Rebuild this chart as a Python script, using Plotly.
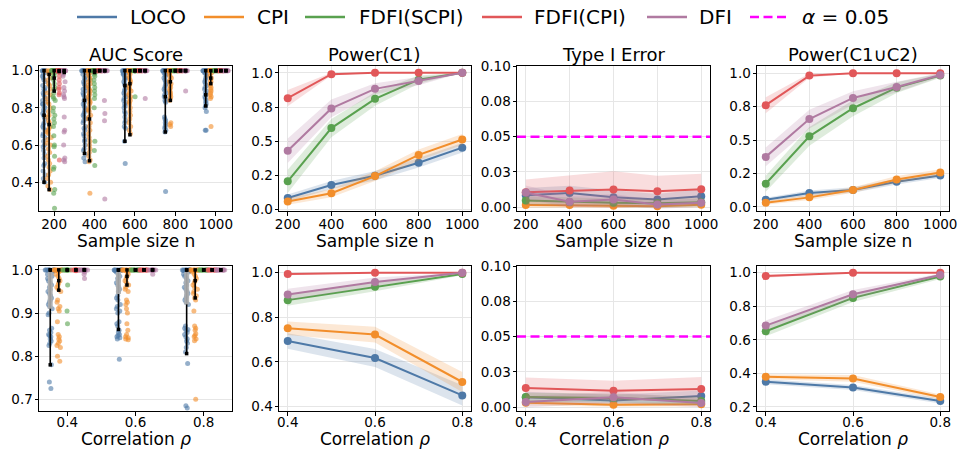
import plotly.graph_objects as go

# ---------------- data ----------------
METHODS = ["LOCO", "CPI", "FDFI(SCPI)", "FDFI(CPI)", "DFI"]
COLORS = ["#4e79a7", "#f28e2b", "#59a14f", "#e15759", "#b07aa1"]

n_values = [200, 400, 600, 800, 1000]
rho_values = [0.4, 0.6, 0.8]

n_ticks = [200, 400, 600, 800, 1000]
rho_ticks = [0.4, 0.6, 0.8]
power_top_ticks = [0.0, 0.25, 0.5, 0.75, 1.0]
power_top_ticktext = ["0.0", "0.2", "0.5", "0.8", "1.0"]
type1_ticks = [0.0, 0.025, 0.05, 0.075, 0.1]
type1_ticktext = ["0.00", "0.03", "0.05", "0.08", "0.10"]
auc_n_ticks = [0.4, 0.6, 0.8, 1.0]
auc_rho_ticks = [0.7, 0.8, 0.9, 1.0]
power_c1_rho_ticks = [0.4, 0.6, 0.8, 1.0]
power_c12_rho_ticks = [0.2, 0.4, 0.6, 0.8, 1.0]
alpha_level = 0.05

# Power(C1) vs sample size
power_c1_n = {
    "LOCO": [0.085, 0.18, 0.248, 0.343, 0.453],
    "CPI": [0.06, 0.12, 0.245, 0.40, 0.513],
    "FDFI(SCPI)": [0.207, 0.596, 0.81, 0.95, 1.0],
    "FDFI(CPI)": [0.815, 0.99, 1.0, 1.0, 1.0],
    "DFI": [0.43, 0.74, 0.883, 0.94, 1.0],
}
power_c1_n_err = {
    "LOCO": [0.025, 0.03, 0.035, 0.035, 0.035],
    "CPI": [0.025, 0.03, 0.035, 0.04, 0.04],
    "FDFI(SCPI)": [0.085, 0.067, 0.05, 0.03, 0.0],
    "FDFI(CPI)": [0.06, 0.01, 0.0, 0.0, 0.0],
    "DFI": [0.09, 0.065, 0.04, 0.03, 0.0],
}
# Type I error vs sample size
type1_n = {
    "LOCO": [0.0086, 0.0102, 0.0071, 0.0055, 0.0078],
    "CPI": [0.0017, 0.0017, 0.0012, 0.0007, 0.0019],
    "FDFI(SCPI)": [0.0048, 0.0038, 0.0033, 0.0028, 0.0036],
    "FDFI(CPI)": [0.0107, 0.0119, 0.0126, 0.0114, 0.0128],
    "DFI": [0.0105, 0.004, 0.0055, 0.002, 0.0033],
}
type1_n_err = {
    "LOCO": [0.005, 0.005, 0.005, 0.004, 0.005],
    "CPI": [0.002, 0.002, 0.0015, 0.001, 0.002],
    "FDFI(SCPI)": [0.003, 0.003, 0.003, 0.003, 0.003],
    "FDFI(CPI)": [0.009, 0.011, 0.013, 0.011, 0.011],
    "DFI": [0.005, 0.004, 0.004, 0.003, 0.003],
}
# Power(C1 u C2) vs sample size
power_c12_n = {
    "LOCO": [0.055, 0.104, 0.127, 0.189, 0.236],
    "CPI": [0.032, 0.072, 0.127, 0.206, 0.258],
    "FDFI(SCPI)": [0.174, 0.529, 0.739, 0.893, 0.983],
    "FDFI(CPI)": [0.762, 0.983, 1.0, 1.0, 1.0],
    "DFI": [0.375, 0.658, 0.816, 0.898, 0.988],
}
power_c12_n_err = {
    "LOCO": [0.015, 0.02, 0.02, 0.02, 0.02],
    "CPI": [0.015, 0.02, 0.02, 0.025, 0.025],
    "FDFI(SCPI)": [0.06, 0.07, 0.06, 0.04, 0.015],
    "FDFI(CPI)": [0.06, 0.015, 0.0, 0.0, 0.0],
    "DFI": [0.07, 0.07, 0.05, 0.04, 0.015],
}
# Power(C1) vs correlation
power_c1_rho = {
    "LOCO": [0.694, 0.6175, 0.45],
    "CPI": [0.751, 0.7225, 0.51],
    "FDFI(SCPI)": [0.877, 0.937, 0.994],
    "FDFI(CPI)": [0.994, 1.0, 1.0],
    "DFI": [0.9025, 0.958, 1.0],
}
power_c1_rho_err = {
    "LOCO": [0.035, 0.04, 0.045],
    "CPI": [0.03, 0.035, 0.045],
    "FDFI(SCPI)": [0.025, 0.02, 0.005],
    "FDFI(CPI)": [0.005, 0.0, 0.0],
    "DFI": [0.025, 0.02, 0.0],
}
# Type I error vs correlation
type1_rho = {
    "LOCO": [0.0069, 0.0047, 0.0078],
    "CPI": [0.0031, 0.0017, 0.0019],
    "FDFI(SCPI)": [0.0071, 0.0064, 0.0043],
    "FDFI(CPI)": [0.0135, 0.0116, 0.0128],
    "DFI": [0.0036, 0.0069, 0.0028],
}
type1_rho_err = {
    "LOCO": [0.004, 0.004, 0.004],
    "CPI": [0.002, 0.0015, 0.0015],
    "FDFI(SCPI)": [0.003, 0.003, 0.003],
    "FDFI(CPI)": [0.0075, 0.007, 0.0085],
    "DFI": [0.004, 0.004, 0.003],
}
# Power(C1 u C2) vs correlation
power_c12_rho = {
    "LOCO": [0.35, 0.316, 0.236],
    "CPI": [0.38, 0.37, 0.26],
    "FDFI(SCPI)": [0.651, 0.85, 0.978],
    "FDFI(CPI)": [0.98, 1.0, 1.0],
    "DFI": [0.685, 0.872, 0.986],
}
power_c12_rho_err = {
    "LOCO": [0.015, 0.015, 0.015],
    "CPI": [0.015, 0.02, 0.015],
    "FDFI(SCPI)": [0.03, 0.025, 0.015],
    "FDFI(CPI)": [0.01, 0.0, 0.0],
    "DFI": [0.03, 0.025, 0.01],
}

# AUC scores (individual runs) vs sample size, one list per n
auc_n_points = {
    "LOCO": [
        [1.0, 1.0, 1.0, 1.0, 1.0, 1.0, 0.99, 0.98, 0.97, 0.96, 0.95, 0.94, 0.92, 0.91, 0.9, 0.89, 0.88, 0.87, 0.86, 0.85,
         0.84, 0.83, 0.82, 0.82, 0.81, 0.8, 0.79, 0.78, 0.77, 0.76, 0.75, 0.74, 0.72, 0.71, 0.7, 0.69, 0.68, 0.66, 0.65,
         0.64, 0.62, 0.6, 0.59, 0.57, 0.55, 0.53, 0.5, 0.49, 0.46, 0.44, 0.42, 0.4],
        [1.0, 1.0, 1.0, 1.0, 1.0, 1.0, 1.0, 1.0, 0.99, 0.98, 0.97, 0.96, 0.95, 0.94, 0.93, 0.92, 0.91, 0.9, 0.89, 0.88,
         0.87, 0.86, 0.85, 0.84, 0.83, 0.82, 0.81, 0.8, 0.79, 0.78, 0.77, 0.76, 0.75, 0.74, 0.73, 0.72, 0.7, 0.69, 0.68,
         0.66, 0.65, 0.63, 0.62, 0.6, 0.58, 0.57, 0.55, 0.53, 0.51],
        [1.0, 1.0, 1.0, 1.0, 1.0, 1.0, 1.0, 1.0, 1.0, 1.0, 0.99, 0.99, 0.98, 0.98, 0.97, 0.96, 0.96, 0.95, 0.94, 0.93,
         0.92, 0.91, 0.9, 0.89, 0.88, 0.87, 0.86, 0.85, 0.84, 0.83, 0.82, 0.81, 0.8, 0.78, 0.77, 0.75, 0.73, 0.72, 0.7,
         0.69, 0.62, 0.5],
        [1.0, 1.0, 1.0, 1.0, 1.0, 1.0, 1.0, 1.0, 1.0, 1.0, 0.99, 0.99, 0.98, 0.98, 0.97, 0.96, 0.95, 0.94, 0.93, 0.92,
         0.91, 0.9, 0.89, 0.88, 0.87, 0.86, 0.85, 0.84, 0.83, 0.75, 0.74, 0.73, 0.72, 0.71, 0.7, 0.69, 0.68, 0.67, 0.35],
        [1.0, 1.0, 1.0, 1.0, 1.0, 1.0, 1.0, 1.0, 1.0, 1.0, 0.99, 0.99, 0.98, 0.97, 0.96, 0.95, 0.94, 0.93, 0.92, 0.91,
         0.9, 0.89, 0.88, 0.87, 0.86, 0.85, 0.84, 0.83, 0.82, 0.81, 0.8, 0.78, 0.68, 0.68],
    ],
    "CPI": [
        [1.0, 1.0, 1.0, 0.99, 0.98, 0.96, 0.95, 0.93, 0.92, 0.9, 0.88, 0.87, 0.85, 0.83, 0.82, 0.8, 0.78, 0.76, 0.75,
         0.73, 0.72, 0.7, 0.69, 0.68, 0.67, 0.66, 0.64, 0.63, 0.61, 0.6, 0.58, 0.56, 0.54, 0.52, 0.5, 0.48, 0.46, 0.44,
         0.42, 0.4, 0.38, 0.36],
        [1.0, 1.0, 1.0, 1.0, 1.0, 1.0, 1.0, 1.0, 0.99, 0.98, 0.97, 0.96, 0.95, 0.94, 0.93, 0.92, 0.91, 0.9, 0.89, 0.88,
         0.87, 0.86, 0.85, 0.84, 0.83, 0.82, 0.8, 0.79, 0.78, 0.76, 0.75, 0.74, 0.72, 0.7, 0.68, 0.66, 0.64, 0.62, 0.6,
         0.58, 0.56, 0.54, 0.52, 0.51, 0.34],
        [1.0, 1.0, 1.0, 1.0, 1.0, 1.0, 1.0, 1.0, 1.0, 1.0, 0.99, 0.98, 0.97, 0.96, 0.95, 0.94, 0.93, 0.92, 0.91, 0.9,
         0.89, 0.88, 0.87, 0.86, 0.85, 0.84, 0.83, 0.82, 0.8, 0.78, 0.76, 0.74, 0.72, 0.7, 0.68, 0.66],
        [1.0, 1.0, 1.0, 1.0, 1.0, 1.0, 1.0, 1.0, 1.0, 1.0, 0.99, 0.98, 0.97, 0.96, 0.95, 0.94, 0.93, 0.92, 0.91, 0.9,
         0.89, 0.88, 0.87, 0.86, 0.85, 0.84, 0.72, 0.71, 0.7],
        [1.0, 1.0, 1.0, 1.0, 1.0, 1.0, 1.0, 1.0, 1.0, 1.0, 0.99, 0.98, 0.97, 0.96, 0.95, 0.94, 0.93, 0.92, 0.91, 0.9,
         0.89, 0.88, 0.87, 0.86, 0.85, 0.7],
    ],
    "FDFI(SCPI)": [
        [1.0, 1.0, 1.0, 1.0, 1.0, 1.0, 1.0, 1.0, 1.0, 1.0, 1.0, 1.0, 0.99, 0.98, 0.97, 0.96, 0.95, 0.93, 0.91, 0.9, 0.88,
         0.86, 0.85, 0.84, 0.8, 0.78, 0.76, 0.74, 0.72, 0.7, 0.65, 0.6, 0.59, 0.54, 0.48, 0.47, 0.36, 0.34, 0.26],
        [1.0, 1.0, 1.0, 1.0, 1.0, 1.0, 1.0, 1.0, 1.0, 1.0, 1.0, 1.0, 0.99, 0.98, 0.97, 0.95, 0.93, 0.91, 0.89, 0.87,
         0.85, 0.8, 0.62, 0.57, 0.49],
        [1.0, 1.0, 1.0, 1.0, 1.0, 1.0, 1.0, 1.0, 1.0, 1.0, 1.0, 1.0, 0.86],
        [1.0, 1.0, 1.0, 1.0, 1.0, 1.0, 1.0, 1.0, 1.0, 1.0, 1.0, 1.0],
        [1.0, 1.0, 1.0, 1.0, 1.0, 1.0, 1.0, 1.0, 1.0, 1.0, 1.0, 1.0],
    ],
    "FDFI(CPI)": [
        [1.0, 1.0, 1.0, 1.0, 1.0, 1.0, 1.0, 1.0, 1.0, 1.0, 1.0, 1.0, 0.99, 0.97, 0.95, 0.93, 0.91, 0.9, 0.88, 0.87, 0.52],
        [1.0, 1.0, 1.0, 1.0, 1.0, 1.0, 1.0, 1.0, 1.0, 1.0, 1.0, 1.0],
        [1.0, 1.0, 1.0, 1.0, 1.0, 1.0, 1.0, 1.0, 1.0, 1.0, 1.0, 1.0],
        [1.0, 1.0, 1.0, 1.0, 1.0, 1.0, 1.0, 1.0, 1.0, 1.0, 1.0, 1.0],
        [1.0, 1.0, 1.0, 1.0, 1.0, 1.0, 1.0, 1.0, 1.0, 1.0, 1.0, 1.0],
    ],
    "DFI": [
        [1.0, 1.0, 1.0, 1.0, 1.0, 1.0, 1.0, 1.0, 1.0, 1.0, 0.98, 0.97, 0.94, 0.91, 0.89, 0.87, 0.86, 0.85, 0.75, 0.68,
         0.67, 0.6, 0.53, 0.52, 0.51],
        [1.0, 1.0, 1.0, 1.0, 1.0, 1.0, 1.0, 1.0, 1.0, 1.0, 1.0, 1.0, 0.84, 0.77, 0.73, 0.31],
        [1.0, 1.0, 1.0, 1.0, 1.0, 1.0, 1.0, 1.0, 1.0, 1.0, 1.0, 1.0, 0.85],
        [1.0, 1.0, 1.0, 1.0, 1.0, 1.0, 1.0, 1.0, 1.0, 1.0, 1.0, 1.0, 0.89],
        [1.0, 1.0, 1.0, 1.0, 1.0, 1.0, 1.0, 1.0, 1.0, 1.0, 1.0, 1.0],
    ],
}
# summary bars for AUC vs n: [low, middle, high] per n
auc_n_summary = {
    "LOCO": [[0.40, 0.76, 1.0], [0.555, 0.84, 1.0], [0.62, 0.92, 1.0], [0.67, 0.86, 1.0], [0.81, 0.87, 1.0]],
    "CPI": [[0.36, 0.71, 0.98], [0.515, 0.74, 1.0], [0.655, 0.93, 1.0], [0.84, 0.94, 1.0], [0.93, 0.96, 1.0]],
    "FDFI(SCPI)": [[0.89, 0.96, 1.0], [0.99, 1.0, 1.0], [1.0, 1.0, 1.0], [1.0, 1.0, 1.0], [1.0, 1.0, 1.0]],
    "FDFI(CPI)": [[0.995, 1.0, 1.0], [1.0, 1.0, 1.0], [1.0, 1.0, 1.0], [1.0, 1.0, 1.0], [1.0, 1.0, 1.0]],
    "DFI": [[0.99, 1.0, 1.0], [1.0, 1.0, 1.0], [1.0, 1.0, 1.0], [1.0, 1.0, 1.0], [1.0, 1.0, 1.0]],
}

# AUC scores vs correlation, one list per rho
auc_rho_points = {
    "LOCO": [
        [1.0, 1.0, 1.0, 1.0, 1.0, 1.0, 1.0, 1.0, 1.0, 1.0, 0.998, 0.995, 0.99, 0.985, 0.98, 0.975, 0.97, 0.965, 0.96,
         0.955, 0.95, 0.945, 0.94, 0.935, 0.93, 0.925, 0.92, 0.915, 0.91, 0.9, 0.896, 0.865, 0.86, 0.855, 0.85, 0.848,
         0.845, 0.84, 0.835, 0.83, 0.825, 0.78, 0.74, 0.725],
        [1.0, 1.0, 1.0, 1.0, 1.0, 1.0, 1.0, 1.0, 1.0, 1.0, 0.998, 0.995, 0.99, 0.985, 0.98, 0.975, 0.97, 0.965, 0.96,
         0.955, 0.95, 0.94, 0.935, 0.93, 0.92, 0.915, 0.91, 0.905, 0.9, 0.88, 0.875, 0.87, 0.86, 0.855, 0.85, 0.848,
         0.845, 0.843, 0.84, 0.793],
        [1.0, 1.0, 1.0, 1.0, 1.0, 1.0, 1.0, 1.0, 1.0, 1.0, 0.998, 0.995, 0.99, 0.985, 0.98, 0.975, 0.97, 0.965, 0.96,
         0.955, 0.95, 0.945, 0.94, 0.935, 0.93, 0.925, 0.92, 0.87, 0.865, 0.862, 0.86, 0.855, 0.85, 0.845, 0.84, 0.835,
         0.83, 0.82, 0.81, 0.783, 0.685, 0.68],
    ],
    "CPI": [
        [1.0, 1.0, 1.0, 1.0, 1.0, 1.0, 1.0, 1.0, 1.0, 1.0, 0.998, 0.995, 0.99, 0.985, 0.98, 0.975, 0.97, 0.965, 0.96,
         0.955, 0.95, 0.93, 0.925, 0.915, 0.91, 0.905, 0.88, 0.85, 0.845, 0.84, 0.835, 0.83, 0.825, 0.82, 0.8, 0.788],
        [1.0, 1.0, 1.0, 1.0, 1.0, 1.0, 1.0, 1.0, 1.0, 1.0, 0.998, 0.995, 0.99, 0.985, 0.98, 0.975, 0.97, 0.965, 0.96,
         0.955, 0.95, 0.93, 0.925, 0.92, 0.91, 0.9, 0.875, 0.86, 0.85, 0.845, 0.843, 0.84, 0.838],
        [1.0, 1.0, 1.0, 1.0, 1.0, 1.0, 1.0, 1.0, 1.0, 1.0, 0.998, 0.995, 0.99, 0.985, 0.98, 0.975, 0.97, 0.965, 0.96,
         0.955, 0.95, 0.945, 0.94, 0.935, 0.93, 0.905, 0.87, 0.865, 0.86, 0.852, 0.848, 0.845, 0.84, 0.836, 0.70],
    ],
    "FDFI(SCPI)": [
        [1.0, 1.0, 1.0, 1.0, 1.0, 1.0, 1.0, 1.0, 1.0, 1.0, 1.0, 1.0, 0.965, 0.905, 0.875],
        [1.0, 1.0, 1.0, 1.0, 1.0, 1.0, 1.0, 1.0, 1.0, 1.0, 1.0, 1.0],
        [1.0, 1.0, 1.0, 1.0, 1.0, 1.0, 1.0, 1.0, 1.0, 1.0, 1.0, 1.0],
    ],
    "FDFI(CPI)": [
        [1.0, 1.0, 1.0, 1.0, 1.0, 1.0, 1.0, 1.0, 1.0, 1.0, 1.0, 1.0, 0.998],
        [1.0, 1.0, 1.0, 1.0, 1.0, 1.0, 1.0, 1.0, 1.0, 1.0, 1.0, 1.0],
        [1.0, 1.0, 1.0, 1.0, 1.0, 1.0, 1.0, 1.0, 1.0, 1.0, 1.0, 1.0],
    ],
    "DFI": [
        [1.0, 1.0, 1.0, 1.0, 1.0, 1.0, 1.0, 1.0, 1.0, 1.0, 1.0, 1.0, 0.995, 0.99, 0.98],
        [1.0, 1.0, 1.0, 1.0, 1.0, 1.0, 1.0, 1.0, 1.0, 1.0, 1.0, 1.0, 0.99],
        [1.0, 1.0, 1.0, 1.0, 1.0, 1.0, 1.0, 1.0, 1.0, 1.0, 1.0, 1.0],
    ],
}
auc_rho_summary = {
    "LOCO": [[0.78, 1.0, 1.0], [0.862, 1.0, 1.0], [0.806, 1.0, 1.0]],
    "CPI": [[0.953, 0.975, 1.0], [0.965, 0.985, 1.0], [0.935, 0.975, 1.0]],
    "FDFI(SCPI)": [[1.0, 1.0, 1.0], [1.0, 1.0, 1.0], [1.0, 1.0, 1.0]],
    "FDFI(CPI)": [[1.0, 1.0, 1.0], [1.0, 1.0, 1.0], [1.0, 1.0, 1.0]],
    "DFI": [[1.0, 1.0, 1.0], [1.0, 1.0, 1.0], [1.0, 1.0, 1.0]],
}
# interquartile band of LOCO AUC vs correlation
auc_rho_loco_iqr = [[0.91, 0.995], [0.944, 0.995], [0.92, 0.995]]

legend_labels = ["LOCO", "CPI", "FDFI(SCPI)", "FDFI(CPI)", "DFI", "<i>α</i> = 0.05"]

# ---------------- style / layout (pixel positions of the target picture) ----------------
FONT = "DejaVu Sans"
W, H = 959, 450
OFFSET_FRAC = [-0.25, -0.125, 0.0, 0.125, 0.25]
JITTER_FRAC = 0.15
PANEL_X_PX = [[39, 232], [279, 471], [517, 710], [757, 949]]
PANEL_Y_PX = [[66, 211], [266, 411]]
LEGEND_LINE_X = [77, 204, 305, 482, 647, 750]
LEGEND_TEXT_X = [128, 255, 357, 532, 697, 800]
LEGEND_Y = 17
TITLE_Y = 54
XTITLE_Y = [241, 439]
XTICK_STANDOFF = [-3, -5]
ALPHA_COLOR = "#ff00ff"


def px_x(p):
    return p / W


def px_y(p):
    return 1 - p / H


X_DOMAINS = [[px_x(a), px_x(b)] for a, b in PANEL_X_PX]
Y_DOMAINS = [[px_y(b), px_y(a)] for a, b in PANEL_Y_PX]


def rgba(hex_color, a):
    h = hex_color.lstrip("#")
    r, g, b = int(h[0:2], 16), int(h[2:4], 16), int(h[4:6], 16)
    return f"rgba({r},{g},{b},{a})"


def axref(i):
    return ("x" if i == 1 else f"x{i}"), ("y" if i == 1 else f"y{i}")


fig = go.Figure()


def add_line_panel(i, xs, vals, errs):
    xr, yr = axref(i)
    for m, c in zip(METHODS, COLORS):
        v, e = vals[m], errs[m]
        up = [a + b for a, b in zip(v, e)]
        lo = [a - b for a, b in zip(v, e)]
        fig.add_trace(go.Scatter(
            x=list(xs) + list(xs)[::-1], y=up + lo[::-1], fill="toself",
            fillcolor=rgba(c, 0.2), line=dict(width=0), mode="lines",
            hoverinfo="skip", showlegend=False, xaxis=xr, yaxis=yr))
        fig.add_trace(go.Scatter(
            x=xs, y=v, mode="lines+markers", line=dict(color=c, width=2),
            marker=dict(size=8, color=c), showlegend=False, name=m, xaxis=xr, yaxis=yr))


def add_auc_panel(i, xs, spacing, points, summary, iqr=None):
    xr, yr = axref(i)
    for k, (m, c) in enumerate(zip(METHODS, COLORS)):
        for j, x in enumerate(xs):
            fig.add_trace(go.Box(
                y=points[m][j], x0=x + OFFSET_FRAC[k] * spacing, width=JITTER_FRAC * spacing,
                boxpoints="all", jitter=1.0, pointpos=0, name=m,
                marker=dict(color=c, size=5, opacity=0.6),
                line=dict(width=0), fillcolor="rgba(0,0,0,0)", whiskerwidth=0,
                hoverinfo="skip", showlegend=False, xaxis=xr, yaxis=yr))
    for k, m in enumerate(METHODS):
        lx, ly, mx, my = [], [], [], []
        for j, x in enumerate(xs):
            p = x + OFFSET_FRAC[k] * spacing
            lo, mid, hi = summary[m][j]
            lx += [p, p, None]
            ly += [lo, hi, None]
            mx += [p, p, p]
            my += [lo, mid, hi]
        fig.add_trace(go.Scatter(x=lx, y=ly, mode="lines", line=dict(color="black", width=1.6),
                                 hoverinfo="skip", showlegend=False, xaxis=xr, yaxis=yr))
        if iqr is not None and m == "LOCO":
            gx, gy = [], []
            for j, x in enumerate(xs):
                p = x + OFFSET_FRAC[k] * spacing
                gx += [p, p, None]
                gy += [iqr[j][0], iqr[j][1], None]
            fig.add_trace(go.Scatter(x=gx, y=gy, mode="lines",
                                     line=dict(color="rgba(175,175,175,0.9)", width=5),
                                     hoverinfo="skip", showlegend=False, xaxis=xr, yaxis=yr))
        fig.add_trace(go.Scatter(x=mx, y=my, mode="markers",
                                 marker=dict(symbol="square", size=3.5, color="black"),
                                 hoverinfo="skip", showlegend=False, xaxis=xr, yaxis=yr))


add_auc_panel(1, n_values, 200, auc_n_points, auc_n_summary)
add_line_panel(2, n_values, power_c1_n, power_c1_n_err)
add_line_panel(3, n_values, type1_n, type1_n_err)
add_line_panel(4, n_values, power_c12_n, power_c12_n_err)
add_auc_panel(5, rho_values, 0.2, auc_rho_points, auc_rho_summary, auc_rho_loco_iqr)
add_line_panel(6, rho_values, power_c1_rho, power_c1_rho_err)
add_line_panel(7, rho_values, type1_rho, type1_rho_err)
add_line_panel(8, rho_values, power_c12_rho, power_c12_rho_err)

# significance level lines
shapes = []
for i in (3, 7):
    xr, yr = axref(i)
    shapes.append(dict(type="line", xref=f"{xr} domain", x0=0, x1=1, yref=yr, y0=alpha_level, y1=alpha_level,
                       line=dict(color=ALPHA_COLOR, width=2.5, dash="9px,4.5px"), layer="above"))

annotations = []

# figure-level legend at the top
legend_colors = COLORS + [ALPHA_COLOR]
for k, (lab, c) in enumerate(zip(legend_labels, legend_colors)):
    is_alpha = k == len(METHODS)
    shapes.append(dict(type="line", xref="paper", yref="paper",
                       x0=px_x(LEGEND_LINE_X[k]), x1=px_x(LEGEND_LINE_X[k] + (37 if is_alpha else 40)),
                       y0=px_y(LEGEND_Y), y1=px_y(LEGEND_Y),
                       line=dict(color=c, width=2.5, dash=("9px,4.5px" if is_alpha else "solid"))))
    annotations.append(dict(text=lab, xref="paper", yref="paper", x=px_x(LEGEND_TEXT_X[k]), y=px_y(LEGEND_Y),
                            xanchor="left", yanchor="middle", showarrow=False,
                            font=dict(size=20, family=FONT, color="black")))

common = dict(showline=True, linecolor="black", linewidth=1, mirror=True, ticks="outside", ticklen=3.5,
              tickwidth=1, tickcolor="black", tickfont=dict(size=13.5, color="black", family=FONT),
              gridcolor="#e6e6e6", gridwidth=1, zeroline=False, automargin=False)

x_ranges = {1: [125, 1080], 2: [160, 1040], 3: [160, 1040], 4: [160, 1040],
            5: [0.317, 0.883], 6: [0.38, 0.82], 7: [0.38, 0.82], 8: [0.38, 0.82]}
y_ranges = {1: [0.245, 1.025], 2: [-0.01, 1.05], 3: [-0.0026, 0.1], 4: [-0.03, 1.055],
            5: [0.673, 1.009], 6: [0.38, 1.03], 7: [-0.0028, 0.1], 8: [0.176, 1.04]}
y_ticks = {1: (auc_n_ticks, ["0.4", "0.6", "0.8", "1.0"]),
           2: (power_top_ticks, power_top_ticktext),
           3: (type1_ticks, type1_ticktext),
           4: (power_top_ticks, power_top_ticktext),
           5: (auc_rho_ticks, ["0.7", "0.8", "0.9", "1.0"]),
           6: (power_c1_rho_ticks, ["0.4", "0.6", "0.8", "1.0"]),
           7: (type1_ticks, type1_ticktext),
           8: (power_c12_rho_ticks, ["0.2", "0.4", "0.6", "0.8", "1.0"])}

layout_axes = {}
for i in range(1, 9):
    row = 0 if i <= 4 else 1
    col = (i - 1) % 4
    xname = "xaxis" if i == 1 else f"xaxis{i}"
    yname = "yaxis" if i == 1 else f"yaxis{i}"
    xr, yr = axref(i)
    xt = n_ticks if row == 0 else rho_ticks
    xtt = [str(t) for t in xt]
    layout_axes[xname] = dict(common, domain=X_DOMAINS[col], anchor=yr, range=x_ranges[i],
                              tickvals=xt, ticktext=xtt, showgrid=(col != 0),
                              ticklabelstandoff=XTICK_STANDOFF[row])
    layout_axes[yname] = dict(common, domain=Y_DOMAINS[row], anchor=xr, range=y_ranges[i],
                              tickvals=y_ticks[i][0], ticktext=y_ticks[i][1], showgrid=True,
                              ticklabelstandoff=-1)

titles = ["AUC Score", "Power(C1)", "Type I Error", "Power(C1∪C2)"]
for col, t in enumerate(titles):
    annotations.append(dict(text=t, xref="paper", yref="paper", x=sum(X_DOMAINS[col]) / 2, y=px_y(TITLE_Y),
                            xanchor="center", yanchor="middle", showarrow=False,
                            font=dict(size=18, family=FONT, color="black")))
for col in range(4):
    annotations.append(dict(text="Sample size n", xref="paper", yref="paper", x=sum(X_DOMAINS[col]) / 2,
                            y=px_y(XTITLE_Y[0]), xanchor="center", yanchor="middle", showarrow=False,
                            font=dict(size=17, family=FONT, color="black")))
    annotations.append(dict(text="Correlation <i>ρ</i>", xref="paper", yref="paper", x=sum(X_DOMAINS[col]) / 2,
                            y=px_y(XTITLE_Y[1]), xanchor="center", yanchor="middle", showarrow=False,
                            font=dict(size=17, family=FONT, color="black")))

fig.update_layout(
    width=W, height=H, margin=dict(l=0, r=0, t=0, b=0, autoexpand=False),
    paper_bgcolor="white", plot_bgcolor="white",
    font=dict(family=FONT, color="black"),
    showlegend=False,
    shapes=shapes, annotations=annotations,
    **layout_axes,
)

# remove the default page margin so the figure sits at the window's top-left corner
fig.write_html("out.html", config={"displayModeBar": False},
               post_script="document.body.style.margin='0px';")
